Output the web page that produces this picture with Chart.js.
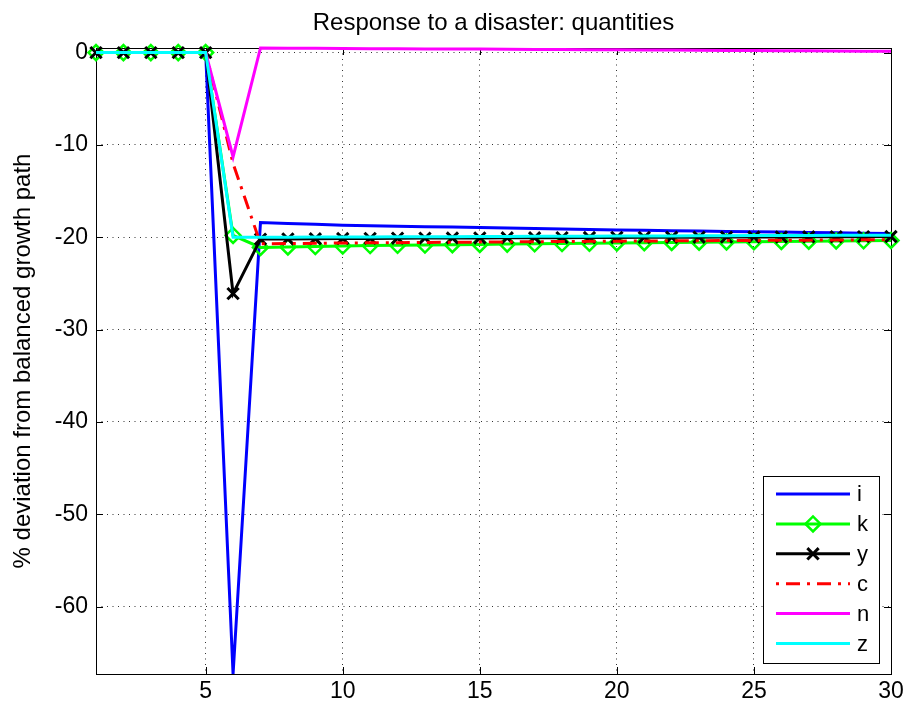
<!DOCTYPE html>
<html>
<head>
<meta charset="utf-8">
<title>Response to a disaster: quantities</title>
<script src="https://cdn.jsdelivr.net/npm/chart.js@4.4.1/dist/chart.umd.min.js"></script>
<style>
  html, body { margin: 0; padding: 0; background: #fff; }
  #wrap { width: 909px; height: 710px; position: relative; }
</style>
</head>
<body>
<div id="wrap"><canvas id="chart"></canvas></div>
<script>
// periods (x axis)
const periods = [1, 2, 3, 4, 5, 6, 7, 8, 9, 10, 11, 12, 13, 14, 15,
                 16, 17, 18, 19, 20, 21, 22, 23, 24, 25, 26, 27, 28, 29, 30];

// % deviation from balanced growth path
const seriesI = [0, 0, 0, 0, 0, -67.3, -18.4, -18.5, -18.6, -18.7, -18.75, -18.8, -18.85, -18.9, -18.95,
                 -19.0, -19.05, -19.1, -19.15, -19.2, -19.25, -19.3, -19.33, -19.37, -19.4, -19.44, -19.48, -19.52, -19.56, -19.6];
const seriesK = [0, 0, 0, 0, 0, -19.8, -21.1, -21.05, -21.0, -20.95, -20.9, -20.87, -20.84, -20.8, -20.77,
                 -20.74, -20.71, -20.68, -20.65, -20.62, -20.59, -20.56, -20.53, -20.5, -20.48, -20.45, -20.43, -20.4, -20.38, -20.35];
const seriesY = [0, 0, 0, 0, 0, -26.1, -20.2, -20.18, -20.16, -20.14, -20.12, -20.1, -20.09, -20.08, -20.07,
                 -20.06, -20.05, -20.04, -20.03, -20.02, -20.01, -20.0, -19.99, -19.98, -19.97, -19.96, -19.95, -19.94, -19.93, -19.92];
const seriesC = [0, 0, 0, 0, 0, -12.0, -20.7, -20.68, -20.65, -20.62, -20.6, -20.58, -20.56, -20.54, -20.52,
                 -20.5, -20.48, -20.46, -20.44, -20.42, -20.4, -20.38, -20.37, -20.35, -20.34, -20.32, -20.31, -20.29, -20.28, -20.27];
const seriesN = [0, 0, 0, 0, 0, -11.3, 0.5, 0.48, 0.46, 0.45, 0.43, 0.42, 0.4, 0.39, 0.38,
                 0.36, 0.34, 0.33, 0.31, 0.3, 0.28, 0.27, 0.25, 0.24, 0.22, 0.21, 0.19, 0.18, 0.16, 0.15];
const seriesZ = [0, 0, 0, 0, 0, -20.0, -20.0, -19.99, -19.98, -19.97, -19.96, -19.95, -19.94, -19.93, -19.92,
                 -19.91, -19.9, -19.89, -19.88, -19.87, -19.86, -19.85, -19.84, -19.83, -19.82, -19.81, -19.8, -19.79, -19.78, -19.77];

const seriesNames = ['i', 'k', 'y', 'c', 'n', 'z'];

// tick labels
const xTicks = [5, 10, 15, 20, 25, 30];
const yTicks = [0, -10, -20, -30, -40, -50, -60];
const yMin = -67.3;
const yMax = 0.5;

const FONT = '"Liberation Sans", Arial, Helvetica, sans-serif';
const dashDot = [3, 7, 14, 7];

function toPoints(values) {
    return periods.map((t, idx) => ({ x: t, y: values[idx] }));
}

function makeSet(label, values, color, extra) {
    return Object.assign({
        label: label,
        data: toPoints(values),
        borderColor: color,
        backgroundColor: color,
        borderWidth: 3,
        pointRadius: 0,
        tension: 0,
        fill: false,
        clip: false
    }, extra || {});
}

const datasets = [
    makeSet(seriesNames[0], seriesI, '#0000ff', { order: 6 }),
    makeSet(seriesNames[1], seriesK, '#00ff00', {
        order: 5, pointStyle: 'rectRot', pointRadius: 7.5,
        pointBorderWidth: 2.5, pointBorderColor: '#00ff00', pointBackgroundColor: 'rgba(0,0,0,0)'
    }),
    makeSet(seriesNames[2], seriesY, '#000000', {
        order: 4, pointStyle: 'crossRot', pointRadius: 8,
        pointBorderWidth: 3, pointBorderColor: '#000000'
    }),
    makeSet(seriesNames[3], seriesC, '#ff0000', { order: 3, borderDash: dashDot }),
    makeSet(seriesNames[4], seriesN, '#ff00ff', { order: 2 }),
    makeSet(seriesNames[5], seriesZ, '#00ffff', { order: 1 })
];

// frame, inward ticks and title, MATLAB style
const framePlugin = {
    id: 'frame',
    beforeDatasetsDraw(chart) {
        const { ctx, chartArea: a, scales } = chart;
        const tl = 7;
        ctx.save();
        ctx.strokeStyle = '#000';
        ctx.lineWidth = 1;
        ctx.beginPath();
        xTicks.forEach(v => {
            const px = Math.round(scales.x.getPixelForValue(v)) + 0.5;
            ctx.moveTo(px, a.bottom); ctx.lineTo(px, a.bottom - tl);
            ctx.moveTo(px, a.top); ctx.lineTo(px, a.top + tl);
        });
        yTicks.forEach(v => {
            const py = Math.round(scales.y.getPixelForValue(v)) + 0.5;
            ctx.moveTo(a.left, py); ctx.lineTo(a.left + tl, py);
            ctx.moveTo(a.right, py); ctx.lineTo(a.right - tl, py);
        });
        ctx.stroke();
        ctx.strokeRect(Math.round(a.left) + 0.5, Math.round(a.top) + 0.5,
                       Math.round(a.right - a.left), Math.round(a.bottom - a.top));
        ctx.restore();
    },
    afterDraw(chart) {
        const { ctx, chartArea: a } = chart;
        ctx.save();
        ctx.fillStyle = '#000';
        ctx.font = '24px ' + FONT;
        ctx.textAlign = 'center';
        ctx.textBaseline = 'alphabetic';
        ctx.fillText('Response to a disaster: quantities', (a.left + a.right) / 2, 30);
        ctx.restore();
    }
};

// legend box inside the plot, lower right
const legendPlugin = {
    id: 'boxLegend',
    afterDatasetsDraw(chart) {
        const ctx = chart.ctx;
        const box = { x: 763, y: 476, w: 116, h: 187 };
        const rowH = 29.9;
        ctx.save();
        ctx.fillStyle = '#fff';
        ctx.fillRect(box.x, box.y, box.w, box.h);
        ctx.strokeStyle = '#000';
        ctx.lineWidth = 1;
        ctx.strokeRect(box.x + 0.5, box.y + 0.5, box.w, box.h);
        chart.data.datasets.forEach((ds, idx) => {
            const y = box.y + 18 + idx * rowH;
            const x0 = box.x + 13, x1 = box.x + 87;
            ctx.save();
            ctx.strokeStyle = ds.borderColor;
            ctx.lineWidth = ds.borderWidth;
            ctx.setLineDash(ds.borderDash || []);
            ctx.beginPath();
            ctx.moveTo(x0, y); ctx.lineTo(x1, y);
            ctx.stroke();
            ctx.restore();
            if (ds.pointRadius) {
                ctx.save();
                ctx.strokeStyle = ds.pointBorderColor;
                ctx.fillStyle = ds.pointBackgroundColor || 'rgba(0,0,0,0)';
                ctx.lineWidth = ds.pointBorderWidth;
                Chart.helpers.drawPoint(ctx, {
                    pointStyle: ds.pointStyle, radius: ds.pointRadius, rotation: 0,
                    borderWidth: ds.pointBorderWidth
                }, (x0 + x1) / 2, y);
                ctx.restore();
            }
            ctx.fillStyle = '#000';
            ctx.font = '22px ' + FONT;
            ctx.textAlign = 'left';
            ctx.textBaseline = 'middle';
            ctx.fillText(ds.label, x1 + 7, y + 1);
        });
        ctx.restore();
    }
};

new Chart(document.getElementById('chart'), {
    type: 'line',
    data: { datasets: datasets },
    plugins: [framePlugin, legendPlugin],
    options: {
        responsive: true,
        maintainAspectRatio: false,
        animation: false,
        events: [],
        layout: { padding: { top: 48, right: 18, bottom: 0, left: 0 } },
        plugins: {
            legend: { display: false },
            title: { display: false },
            tooltip: { enabled: false }
        },
        scales: {
            x: {
                type: 'linear',
                min: 1,
                max: 30,
                afterBuildTicks: scale => { scale.ticks = xTicks.map(v => ({ value: v })); },
                afterFit: scale => { scale.height = 36; },
                grid: { color: '#333', lineWidth: 1, drawTicks: false },
                border: { display: false, dash: [1, 4.5] },
                ticks: {
                    color: '#000',
                    padding: 4,
                    maxRotation: 0,
                    font: { family: FONT, size: 23 },
                    callback: v => String(v)
                }
            },
            y: {
                type: 'linear',
                min: yMin,
                max: yMax,
                afterBuildTicks: scale => { scale.ticks = yTicks.map(v => ({ value: v })); },
                afterFit: scale => { scale.width = 96; },
                grid: { color: '#333', lineWidth: 1, drawTicks: false },
                border: { display: false, dash: [1, 4.5] },
                ticks: {
                    color: '#000',
                    padding: 8,
                    font: { family: FONT, size: 23 },
                    callback: v => String(v)
                },
                title: {
                    display: true,
                    text: '% deviation from balanced growth path',
                    color: '#000',
                    font: { family: FONT, size: 24 },
                    padding: { top: 9, bottom: 0 }
                }
            }
        }
    }
});
</script>
</body>
</html>
